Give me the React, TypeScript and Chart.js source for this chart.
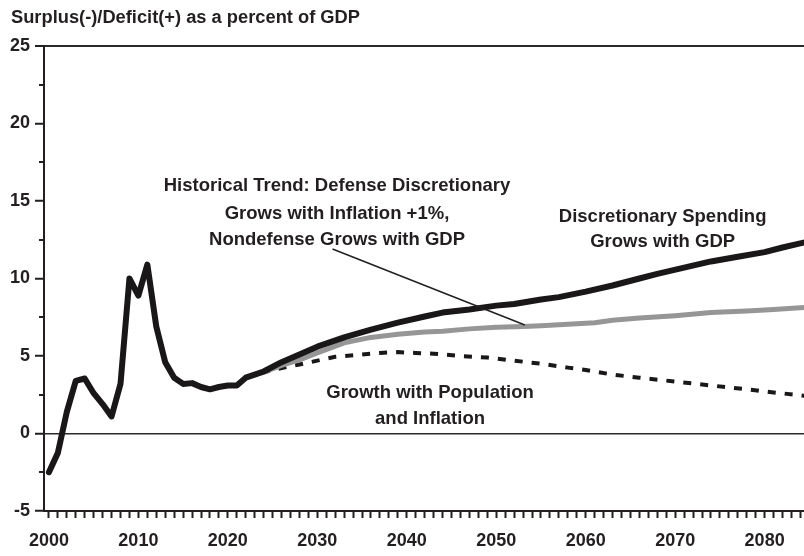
import { useEffect, useRef } from "react";
import { Chart, registerables } from "chart.js";

Chart.register(...registerables);

const FONT = '"Liberation Sans", Arial, "Helvetica Neue", sans-serif';
const INK = "#231f20";

const TITLE = "Surplus(-)/Deficit(+) as a percent of GDP";

// Discretionary Spending Grows with GDP (includes history)
const gdpYears = [2000, 2001, 2002, 2003, 2004, 2005, 2006, 2007, 2008, 2009, 2010, 2011, 2012, 2013, 2014, 2015, 2016, 2017, 2018, 2019, 2020, 2021, 2022, 2023, 2024, 2026, 2028, 2030, 2033, 2036, 2039, 2042, 2044, 2047, 2050, 2052, 2055, 2057, 2060, 2063, 2066, 2068, 2071, 2074, 2077, 2080, 2082, 2085];
const gdpValues = [-2.5, -1.25, 1.4, 3.4, 3.55, 2.6, 1.9, 1.1, 3.2, 10.0, 8.9, 10.9, 6.9, 4.6, 3.6, 3.2, 3.25, 3.0, 2.85, 3.0, 3.1, 3.1, 3.6, 3.8, 4.0, 4.6, 5.1, 5.6, 6.2, 6.7, 7.15, 7.55, 7.8, 8.0, 8.25, 8.35, 8.65, 8.8, 9.15, 9.55, 10.0, 10.3, 10.7, 11.1, 11.4, 11.7, 12.0, 12.4];

// Historical Trend
const trendYears = [2022, 2023, 2024, 2026, 2028, 2030, 2033, 2036, 2039, 2042, 2044, 2047, 2050, 2053, 2055, 2058, 2061, 2063, 2066, 2070, 2074, 2078, 2081, 2085];
const trendValues = [3.6, 3.8, 3.95, 4.4, 4.75, 5.2, 5.85, 6.2, 6.4, 6.55, 6.6, 6.75, 6.85, 6.9, 6.95, 7.05, 7.15, 7.3, 7.45, 7.6, 7.8, 7.9, 8.0, 8.15];

// Growth with Population and Inflation
const popYears = [2022, 2024, 2025, 2028, 2030, 2032, 2035, 2037, 2039, 2041, 2043, 2046, 2049, 2052, 2055, 2058, 2060, 2063, 2066, 2070, 2074, 2078, 2081, 2085];
const popValues = [3.6, 3.95, 4.1, 4.45, 4.7, 4.95, 5.1, 5.2, 5.25, 5.2, 5.15, 5.0, 4.9, 4.7, 4.5, 4.25, 4.1, 3.8, 3.6, 3.35, 3.1, 2.85, 2.65, 2.4];

const xTickYears = Array.from({ length: 85 }, (_, i) => 2000 + i);
const yMajorTicks = [-5, 0, 5, 10, 15, 20, 25];
const yMinorTicks = [-2.5, 2.5, 7.5, 12.5, 17.5, 22.5];

const trendLabel = ["Historical Trend: Defense Discretionary", "Grows with Inflation +1%,", "Nondefense Grows with GDP"];
const trendLabelPos = { x: 2032.2, y: [15.97, 14.16, 12.48] };
const gdpLabel = ["Discretionary Spending", "Grows with GDP"];
const gdpLabelPos = { x: 2068.6, y: [13.97, 12.35] };
const popLabel = ["Growth with Population", "and Inflation"];
const popLabelPos = { x: 2042.6, y: [2.61, 0.94] };
const leader = { x1: 2031.7, y1: 11.9, x2: 2053.2, y2: 7.0 };

const toPts = (xs: number[], ys: number[]) => xs.map((x, i) => ({ x, y: ys[i] }));

const annotPlugin = {
  id: "annot",
  afterDraw(chart: any) {
    const { ctx, chartArea } = chart;
    const x = chart.scales.x;
    const y = chart.scales.y;
    ctx.save();
    // minor y ticks
    ctx.strokeStyle = INK;
    ctx.lineWidth = 2;
    for (const v of yMinorTicks) {
      const py = Math.round(y.getPixelForValue(v));
      ctx.beginPath();
      ctx.moveTo(chartArea.left - 5, py);
      ctx.lineTo(chartArea.left, py);
      ctx.stroke();
    }
    // leader line
    ctx.lineWidth = 1.5;
    ctx.beginPath();
    ctx.moveTo(x.getPixelForValue(leader.x1), y.getPixelForValue(leader.y1));
    ctx.lineTo(x.getPixelForValue(leader.x2), y.getPixelForValue(leader.y2));
    ctx.stroke();
    // labels
    ctx.fillStyle = INK;
    ctx.font = `bold 18.5px ${FONT}`;
    ctx.textAlign = "center";
    ctx.textBaseline = "middle";
    const drawBlock = (lines: string[], pos: { x: number; y: number[] }) => {
      lines.forEach((t, i) => ctx.fillText(t, x.getPixelForValue(pos.x), y.getPixelForValue(pos.y[i])));
    };
    drawBlock(trendLabel, trendLabelPos);
    drawBlock(gdpLabel, gdpLabelPos);
    drawBlock(popLabel, popLabelPos);
    // title
    ctx.textAlign = "left";
    ctx.font = `bold 18.3px ${FONT}`;
    ctx.fillText(TITLE, 11, 18);
    ctx.restore();
  },
};

export default function App() {
  const ref = useRef<HTMLCanvasElement | null>(null);
  useEffect(() => {
    if (!ref.current) return;
    const chart = new Chart(ref.current, {
      type: "line",
      data: {
        datasets: [
          {
            label: "Discretionary Spending Grows with GDP",
            data: toPts(gdpYears, gdpValues),
            borderColor: "#1a1718",
            borderWidth: 6,
            pointRadius: 0,
            borderJoinStyle: "round",
            borderCapStyle: "round",
            tension: 0,
            order: 0,
          },
          {
            label: "Historical Trend",
            data: toPts(trendYears, trendValues),
            borderColor: "#969696",
            borderWidth: 5,
            pointRadius: 0,
            borderJoinStyle: "round",
            tension: 0,
            order: 1,
          },
          {
            label: "Growth with Population and Inflation",
            data: toPts(popYears, popValues),
            borderColor: "#1a1718",
            borderWidth: 4,
            borderDash: [8, 9],
            pointRadius: 0,
            tension: 0,
            order: 2,
          },
        ],
      },
      options: {
        animation: false,
        responsive: false,
        devicePixelRatio: 1,
        layout: { padding: { top: 46, right: 0, left: 0, bottom: 0 } },
        plugins: { legend: { display: false }, tooltip: { enabled: false }, title: { display: false } },
        scales: {
          x: {
            type: "linear",
            min: 1999.45,
            max: 2084.4,
            afterFit: (s: any) => {
              s.height = 45;
              s.paddingLeft = 0;
              s.paddingRight = 0;
            },
            afterBuildTicks: (s: any) => {
              s.ticks = xTickYears.map((v) => ({ value: v }));
            },
            ticks: {
              autoSkip: false,
              maxRotation: 0,
              padding: 12,
              color: INK,
              font: { family: FONT, size: 18, weight: "bold" },
              callback: (v: any) => (Number(v) % 10 === 0 ? String(v) : ""),
            },
            grid: { drawOnChartArea: false, tickLength: 7, tickWidth: 2, tickColor: INK },
            border: { display: true, width: 2, color: INK },
          },
          y: {
            min: -5,
            max: 25,
            afterFit: (s: any) => {
              s.width = 44;
            },
            afterBuildTicks: (s: any) => {
              s.ticks = yMajorTicks.map((v) => ({ value: v }));
            },
            ticks: {
              padding: 5,
              color: INK,
              font: { family: FONT, size: 18, weight: "bold" },
            },
            grid: {
              drawOnChartArea: true,
              tickLength: 9,
              tickWidth: 2,
              tickColor: INK,
              color: (c: any) => (c.tick && (c.tick.value === 0 || c.tick.value === 25) ? "#2b2b2b" : "rgba(0,0,0,0)"),
              lineWidth: (c: any) => (c.tick && c.tick.value === 25 ? 2 : 1.5),
            },
            border: { display: true, width: 2, color: INK },
          },
        },
      },
      plugins: [annotPlugin],
    });
    return () => chart.destroy();
  }, []);
  return (
    <div style={{ position: "absolute", left: 0, top: 0, width: 804, height: 556, background: "#fff" }}>
      <canvas ref={ref} width={804} height={556} style={{ display: "block" }} />
    </div>
  );
}
